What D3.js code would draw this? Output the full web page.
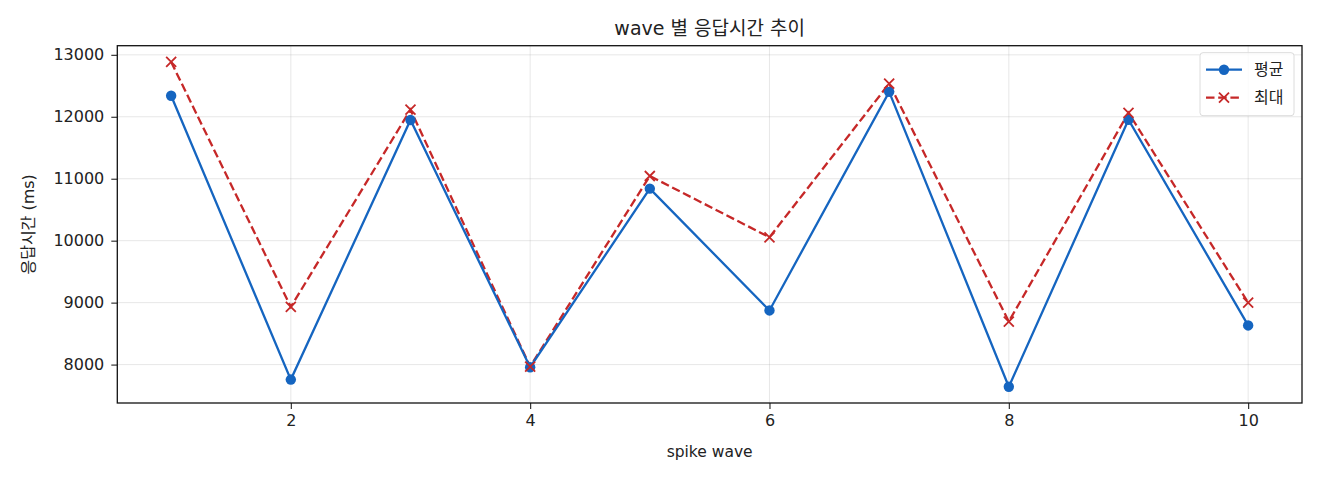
<!DOCTYPE html>
<html>
<head>
<meta charset="utf-8">
<script src="https://cdn.jsdelivr.net/npm/d3@7"></script>
<style>
  body { margin: 0; background: #fff; }
  svg text { font-family: "DejaVu Sans", "Noto Sans CJK KR", sans-serif; fill: #222; }
</style>
</head>
<body>
<div id="chart"></div>
<script>
'use strict';

var waves = [1, 2, 3, 4, 5, 6, 7, 8, 9, 10];
var avgMs = [12340, 7758, 11948, 7957, 10840, 8874, 12402, 7642, 11952, 8632];
var maxMs = [12885, 8930, 12115, 7968, 11044, 10055, 12535, 8695, 12064, 9000];
var xTicks = [2, 4, 6, 8, 10];
var yTicks = [8000, 9000, 10000, 11000, 12000, 13000];

var width = 1320;
var height = 480;
var margin = {top: 45.7, right: 18, bottom: 77, left: 117.3};
var innerW = width - margin.left - margin.right;
var innerH = height - margin.top - margin.bottom;

var blue = '#1565c0';
var red = '#c62828';

var svg = d3.select('#chart').append('svg')
	.attr('width', width)
	.attr('height', height);

var g = svg.append('g')
	.attr('transform', 'translate(' + margin.left + ',' + margin.top + ')');

// matplotlib style 5% padding
var yAll = avgMs.concat(maxMs);
var yMin = d3.min(yAll), yMax = d3.max(yAll);
var yPad = (yMax - yMin) * 0.05;
var xPad = (d3.max(waves) - d3.min(waves)) * 0.05;

var x = d3.scaleLinear()
	.domain([d3.min(waves) - xPad, d3.max(waves) + xPad])
	.range([0, innerW]);

var y = d3.scaleLinear()
	.domain([yMin - yPad, yMax + yPad])
	.range([innerH, 0]);

// grid
g.append('g').selectAll('line').data(xTicks).enter().append('line')
	.attr('x1', function(d){ return x(d); })
	.attr('x2', function(d){ return x(d); })
	.attr('y1', 0).attr('y2', innerH)
	.attr('stroke', '#b0b0b0').attr('stroke-opacity', 0.3).attr('stroke-width', 1);

g.append('g').selectAll('line').data(yTicks).enter().append('line')
	.attr('y1', function(d){ return y(d); })
	.attr('y2', function(d){ return y(d); })
	.attr('x1', 0).attr('x2', innerW)
	.attr('stroke', '#b0b0b0').attr('stroke-opacity', 0.3).attr('stroke-width', 1);

// axes
var xAxis = g.append('g')
	.attr('transform', 'translate(0,' + innerH + ')')
	.call(d3.axisBottom(x).tickValues(xTicks).tickSize(6).tickPadding(6).tickFormat(d3.format('d')));

var yAxis = g.append('g')
	.call(d3.axisLeft(y).tickValues(yTicks).tickSize(6).tickPadding(7).tickFormat(d3.format('d')));

[xAxis, yAxis].forEach(function(a){
	a.select('.domain').remove();
	a.selectAll('.tick line').attr('stroke', '#222').attr('stroke-width', 1.1);
	a.selectAll('.tick text').attr('font-size', 16).attr('fill', '#222')
		.style('font-family', '"DejaVu Sans", sans-serif');
});

g.append('rect')
	.attr('width', innerW).attr('height', innerH)
	.attr('fill', 'none').attr('stroke', '#111').attr('stroke-width', 1.3);

// lines
var line = d3.line()
	.x(function(d, i){ return x(waves[i]); })
	.y(function(d){ return y(d); });

g.append('path')
	.datum(maxMs)
	.attr('d', line)
	.attr('fill', 'none')
	.attr('stroke', red)
	.attr('stroke-width', 2.3)
	.attr('stroke-dasharray', '8.5,3.7');

g.append('path')
	.datum(avgMs)
	.attr('d', line)
	.attr('fill', 'none')
	.attr('stroke', blue)
	.attr('stroke-width', 2.3);

g.append('g').selectAll('circle').data(avgMs).enter().append('circle')
	.attr('cx', function(d, i){ return x(waves[i]); })
	.attr('cy', function(d){ return y(d); })
	.attr('r', 5.2)
	.attr('fill', blue);

g.append('g').selectAll('path').data(maxMs).enter().append('path')
	.attr('transform', function(d, i){ return 'translate(' + x(waves[i]) + ',' + y(d) + ')'; })
	.attr('d', 'M-5,-5L5,5M-5,5L5,-5')
	.attr('stroke', red)
	.attr('stroke-width', 1.8)
	.attr('fill', 'none');

// legend
var legend = g.append('g')
	.attr('transform', 'translate(' + (innerW - 102) + ',7)');

legend.append('rect')
	.attr('width', 94).attr('height', 63).attr('rx', 3)
	.attr('fill', '#fff').attr('fill-opacity', 0.8)
	.attr('stroke', '#dcdcdc').attr('stroke-width', 1);

var legendItems = [
	{label: '평균', color: blue, dash: null, marker: 'circle'},
	{label: '최대', color: red, dash: '8.5,3.7', marker: 'x'}
];

legendItems.forEach(function(item, i){
	var row = legend.append('g').attr('transform', 'translate(0,' + (17 + i * 28) + ')');
	row.append('line')
		.attr('x1', 6).attr('x2', 42).attr('y1', 0).attr('y2', 0)
		.attr('stroke', item.color).attr('stroke-width', 2.3)
		.attr('stroke-dasharray', item.dash);
	if (item.marker === 'circle') {
		row.append('circle').attr('cx', 24).attr('cy', 0).attr('r', 5.2).attr('fill', item.color);
	} else {
		row.append('path').attr('transform', 'translate(24,0)')
			.attr('d', 'M-5,-5L5,5M-5,5L5,-5')
			.attr('stroke', item.color).attr('stroke-width', 1.8);
	}
	row.append('text')
		.attr('x', 54).attr('y', 0).attr('dy', '0.35em')
		.attr('font-size', 16)
		.text(item.label);
});

// titles
svg.append('text')
	.attr('x', margin.left + innerW / 2)
	.attr('y', 35)
	.attr('text-anchor', 'middle')
	.attr('font-size', 19)
	.text('wave 별 응답시간 추이');

svg.append('text')
	.attr('x', margin.left + innerW / 2)
	.attr('y', 457)
	.attr('text-anchor', 'middle')
	.attr('font-size', 15.5)
	.text('spike wave');

svg.append('text')
	.attr('transform', 'translate(34,' + (margin.top + innerH / 2) + ') rotate(-90)')
	.attr('text-anchor', 'middle')
	.attr('font-size', 16)
	.text('응답시간 (ms)');
</script>
</body>
</html>
